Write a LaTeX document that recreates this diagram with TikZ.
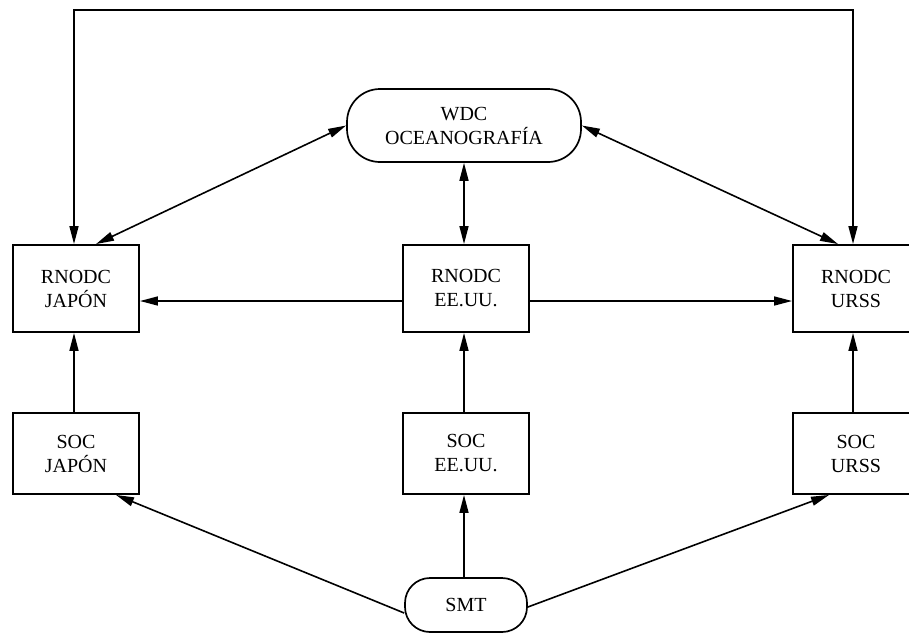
\documentclass[tikz,border=0pt]{standalone}
\usepackage{fontspec}
\setmainfont{Liberation Serif}
\usetikzlibrary{arrows.meta}
\begin{document}
\begin{tikzpicture}[x=1pt,y=-1pt,
  every node/.style={font=\fontsize{20}{24}\selectfont, align=center},
  boxnode/.style={draw, line width=1.9pt, minimum width=126pt, minimum height=87pt, inner sep=0pt},
  socnode/.style={draw, line width=1.9pt, minimum width=126pt, minimum height=81pt, inner sep=0pt},
  pillnode/.style={draw, line width=1.7pt, rounded corners=33pt, inner sep=0pt},
  conn/.style={line width=1.6pt, -{Triangle[length=18pt,width=9pt]}},
  bconn/.style={line width=1.6pt, {Triangle[length=18pt,width=9pt]}-{Triangle[length=18pt,width=9pt]}}]
\useasboundingbox (0,0) rectangle (909,635);
\node[pillnode, minimum width=234pt, minimum height=73pt] (wdc) at (464,125.5) {WDC\\OCEANOGRAFÍA};
\node[boxnode] (rj) at (76,288.5) {RNODC\\JAPÓN};
\node[boxnode] (re) at (466,288.5) {RNODC\\EE.UU.};
\node[boxnode] (ru) at (856,288.5) {RNODC\\URSS};
\node[socnode] (sj) at (76,453.5) {SOC\\JAPÓN};
\node[socnode] (se) at (466,453.5) {SOC\\EE.UU.};
\node[socnode] (su) at (856,453.5) {SOC\\URSS};
\node[pillnode, minimum width=122pt, minimum height=54pt, rounded corners=25pt] (smt) at (466,605) {SMT};
\coordinate (top) at (464,10);
% top loop
\draw[bconn] ([xshift=-2pt]rj.north) -- ([xshift=-2pt]rj.north |- top) -- ([xshift=-3pt]ru.north |- top) -- ([xshift=-3pt]ru.north);
% WDC links
\draw[bconn] (wdc.west) -- ([xshift=20pt]rj.north);
\draw[bconn] (wdc.east) -- ([xshift=-18pt]ru.north);
\draw[bconn] (wdc.south) -- ([xshift=-2pt]re.north);
% EE.UU. to others
\draw[conn] ([yshift=-12.5pt]re.west) -- ([yshift=-12.5pt]rj.east);
\draw[conn] ([yshift=-12.5pt]re.east) -- ([yshift=-12.5pt]ru.west);
% SOC to RNODC
\draw[conn] ([xshift=-2pt]sj.north) -- ([xshift=-2pt]rj.south);
\draw[conn] ([xshift=-2pt]se.north) -- ([xshift=-2pt]re.south);
\draw[conn] ([xshift=-3pt]su.north) -- ([xshift=-3pt]ru.south);
% SMT to SOC
\draw[conn] ([yshift=-8pt]smt.west) -- ([xshift=40pt]sj.south);
\draw[conn] ([yshift=-2pt]smt.east) -- ([xshift=-27pt]su.south);
\draw[conn] ([xshift=-2pt]smt.north) -- ([xshift=-2pt]se.south);
\end{tikzpicture}
\end{document}
